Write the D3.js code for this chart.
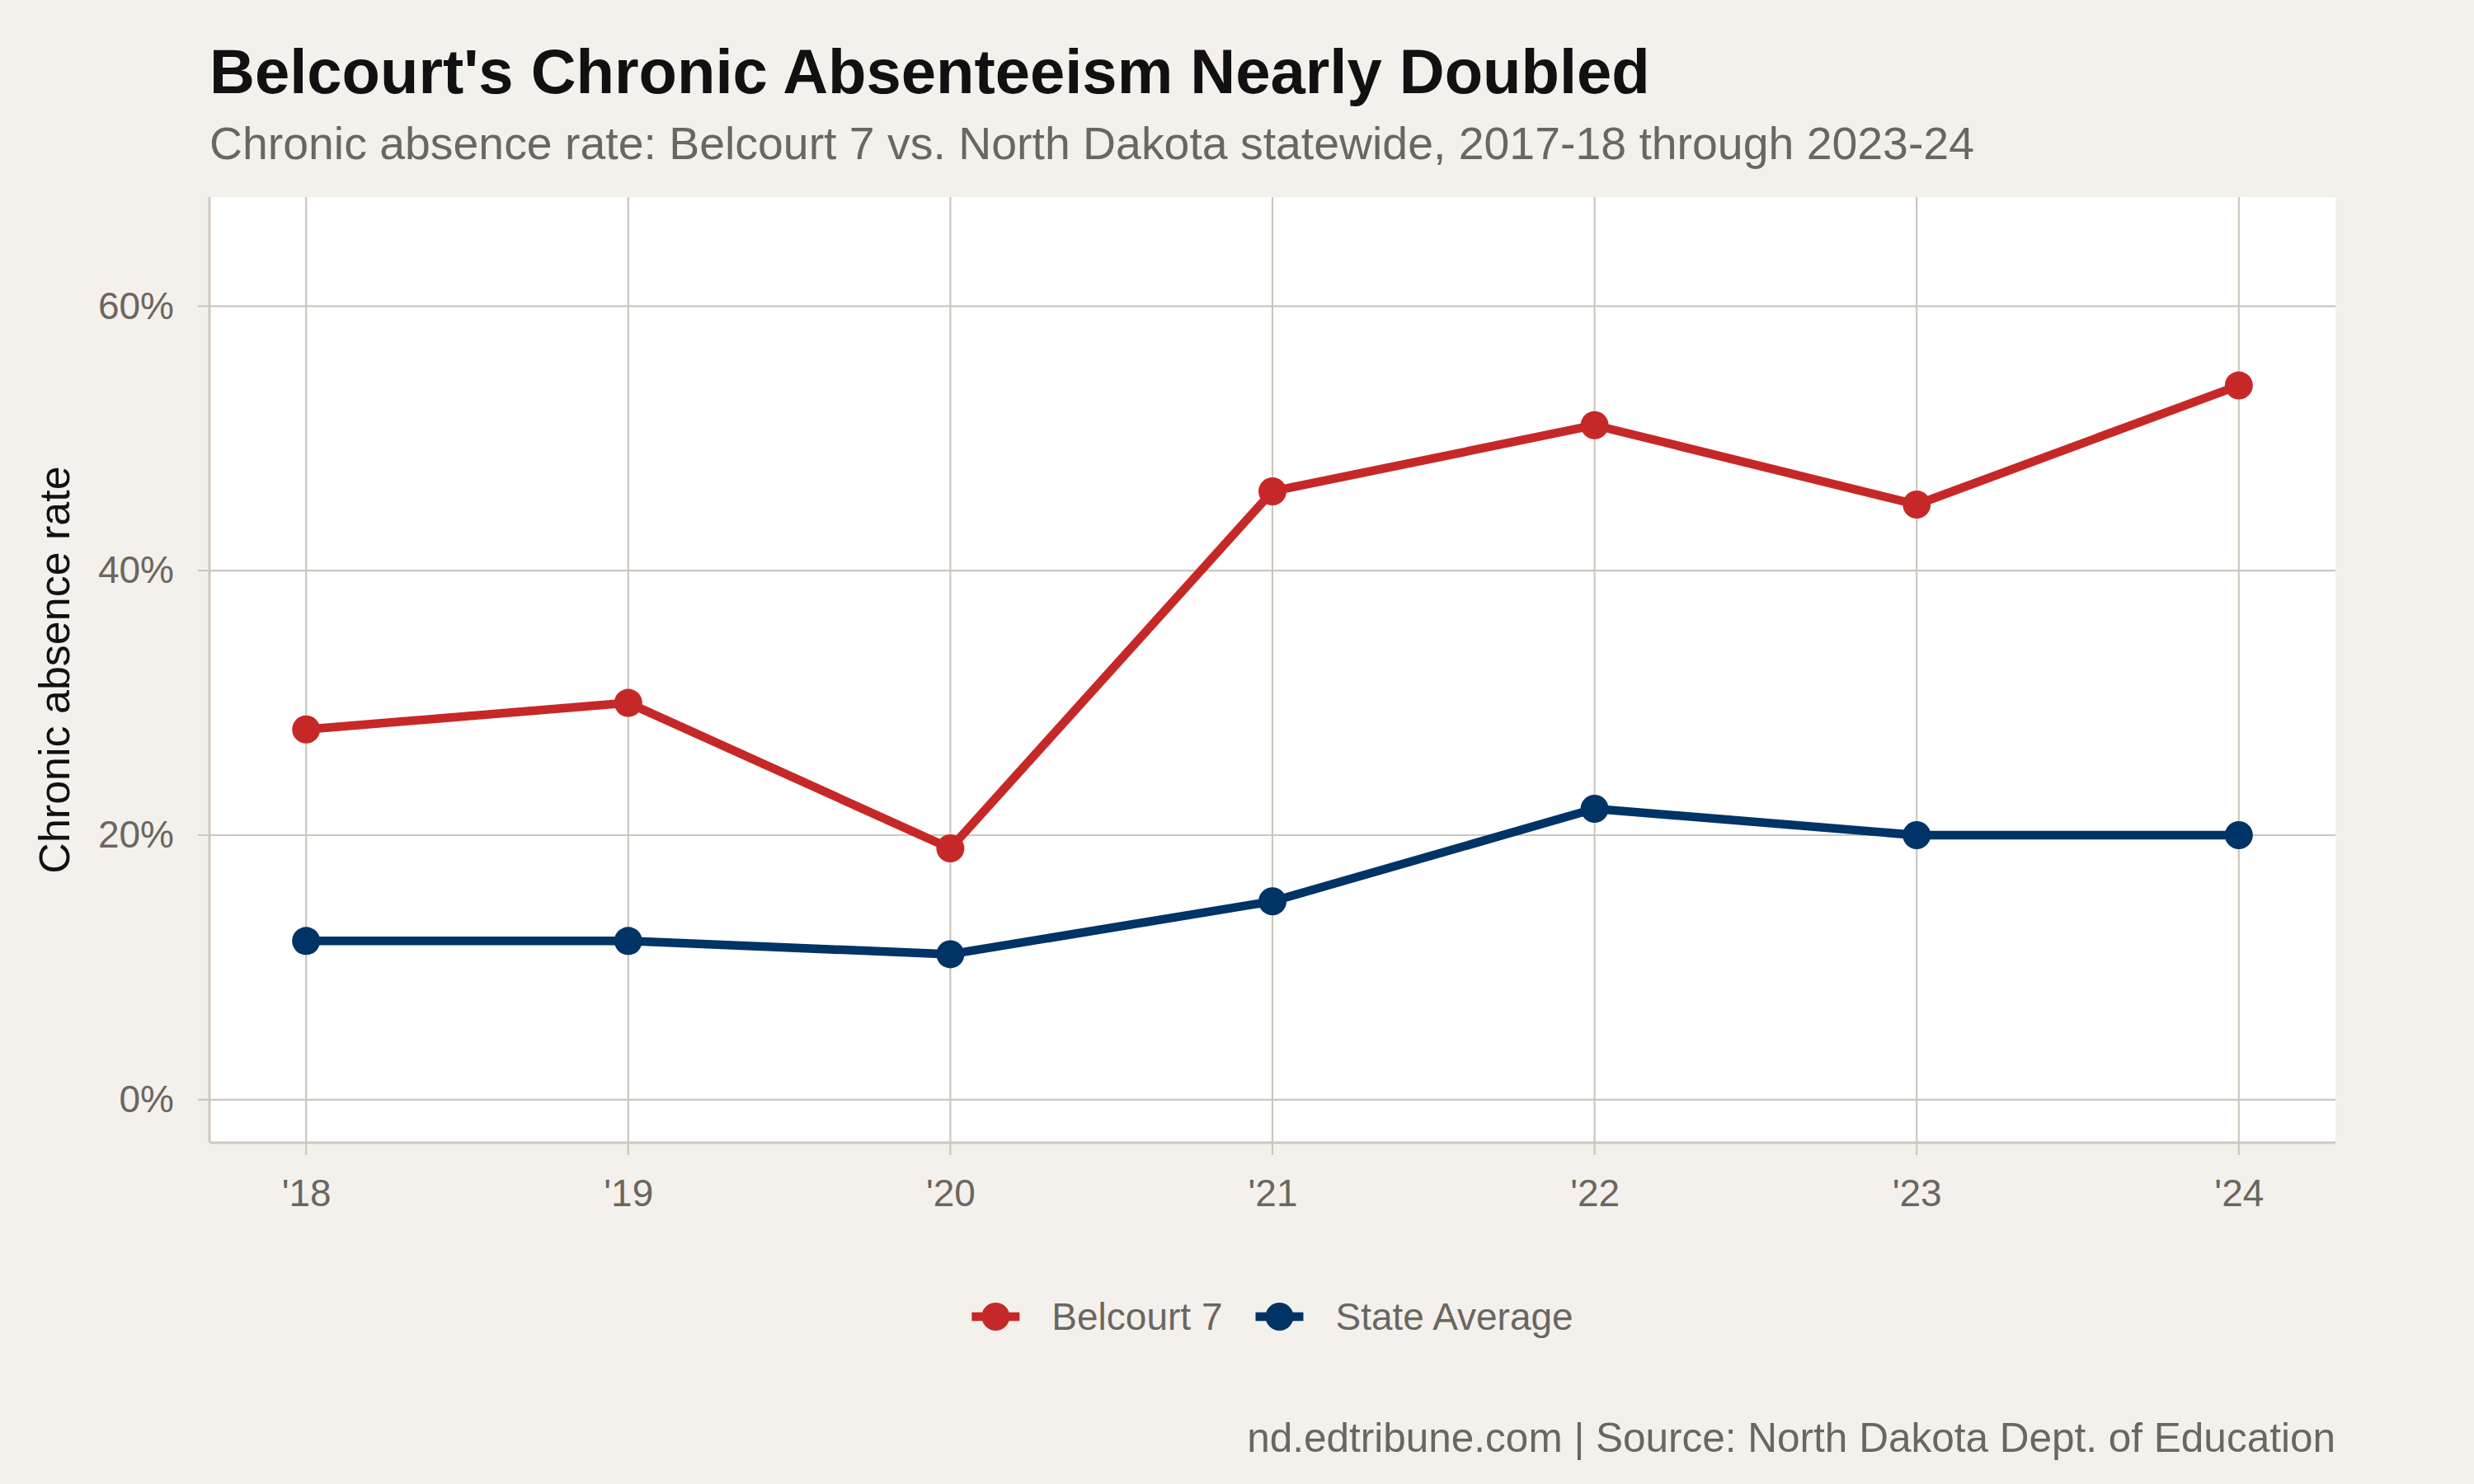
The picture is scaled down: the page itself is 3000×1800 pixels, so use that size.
<!DOCTYPE html>
<html>
<head>
<meta charset="utf-8">
<script src="https://cdn.jsdelivr.net/npm/d3@7"></script>
<style>
  html, body { margin: 0; padding: 0; background: #f4f1ec; }
  svg { display: block; }
  text { font-family: "Liberation Sans", Arial, Helvetica, sans-serif; }
</style>
</head>
<body>
<script>
// ---- Data ----
const years = [2018, 2019, 2020, 2021, 2022, 2023, 2024];
const xTickLabels = ["'18", "'19", "'20", "'21", "'22", "'23", "'24"];
const belcourt = [28, 30, 19, 46, 51, 45, 54];
const stateAvg = [12, 12, 11, 15, 22, 20, 20];
const yTicks = [0, 20, 40, 60];
const seriesNames = ["Belcourt 7", "State Average"];
const seriesColors = ["#c62828", "#003366"];

const W = 3000, H = 1800;
const panel = { left: 254, right: 2832, top: 239, bottom: 1386 };

const svg = d3.select("body").append("svg").attr("width", W).attr("height", H);
svg.append("rect").attr("width", W).attr("height", H).attr("fill", "#f4f1ec");

const x = d3.scaleLinear()
  .domain([2018 - 0.3, 2024 + 0.3])
  .range([panel.left, panel.right]);
const y = d3.scaleLinear()
  .domain([-3.25, 68.25])
  .range([panel.bottom, panel.top]);

const gridCol = "#cdc7bd";
const textCol = "#6b6660";

// panel
svg.append("rect")
  .attr("x", panel.left).attr("y", panel.top)
  .attr("width", panel.right - panel.left).attr("height", panel.bottom - panel.top)
  .attr("fill", "#ffffff");

// gridlines
svg.append("g").selectAll("line").data(yTicks).join("line")
  .attr("x1", panel.left - 14).attr("x2", panel.right)
  .attr("y1", d => y(d)).attr("y2", d => y(d))
  .attr("stroke", gridCol).attr("stroke-width", 2.2);
svg.append("g").selectAll("line").data(years).join("line")
  .attr("x1", d => x(d)).attr("x2", d => x(d))
  .attr("y1", panel.top).attr("y2", panel.bottom + 15)
  .attr("stroke", gridCol).attr("stroke-width", 2.2);

// axis lines
svg.append("line")
  .attr("x1", panel.left).attr("x2", panel.left)
  .attr("y1", panel.top).attr("y2", panel.bottom)
  .attr("stroke", gridCol).attr("stroke-width", 3);
svg.append("line")
  .attr("x1", panel.left).attr("x2", panel.right)
  .attr("y1", panel.bottom).attr("y2", panel.bottom)
  .attr("stroke", gridCol).attr("stroke-width", 3);

// Y axis labels
const yAxis = d3.axisLeft(y).tickValues(yTicks).tickFormat(d => d + "%").tickSize(0).tickPadding(0);
const gy = svg.append("g").attr("transform", `translate(${panel.left - 43},0)`).call(yAxis);
gy.select(".domain").remove();
gy.selectAll("text").attr("fill", textCol).attr("font-size", 46)
  .attr("font-family", "'Liberation Sans', Arial, sans-serif");

// X axis labels
const xAxis = d3.axisBottom(x).tickValues(years).tickFormat((d, i) => xTickLabels[i]).tickSize(0).tickPadding(0);
const gx = svg.append("g").attr("transform", `translate(0,${panel.bottom + 44})`).call(xAxis);
gx.select(".domain").remove();
gx.selectAll("text").attr("fill", textCol).attr("font-size", 46)
  .attr("font-family", "'Liberation Sans', Arial, sans-serif");

// Axis title
svg.append("text")
  .attr("transform", `translate(84,${(panel.top + panel.bottom) / 2}) rotate(-90)`)
  .attr("text-anchor", "middle")
  .attr("font-size", 52).attr("fill", "#111111")
  .text("Chronic absence rate");

// Lines and points
const series = [belcourt, stateAvg];
const line = d3.line().x((d, i) => x(years[i])).y(d => y(d));
series.forEach((s, k) => {
  svg.append("path").datum(s)
    .attr("d", line)
    .attr("fill", "none")
    .attr("stroke", seriesColors[k])
    .attr("stroke-width", 10.5)
    .attr("stroke-linejoin", "round")
    .attr("stroke-linecap", "butt");
  svg.append("g").selectAll("circle").data(s).join("circle")
    .attr("cx", (d, i) => x(years[i]))
    .attr("cy", d => y(d))
    .attr("r", 17)
    .attr("fill", seriesColors[k]);
});

// Title / subtitle
svg.append("text").attr("x", 254).attr("y", 113)
  .attr("font-size", 76).attr("font-weight", "bold").attr("fill", "#111111")
  .text("Belcourt's Chronic Absenteeism Nearly Doubled");
svg.append("text").attr("x", 254).attr("y", 193)
  .attr("font-size", 55.4).attr("fill", textCol)
  .text("Chronic absence rate: Belcourt 7 vs. North Dakota statewide, 2017-18 through 2023-24");

// Legend
const legY = 1597;
const keyW = 58, keyToText = 97, itemGap = 40;
const leg = svg.append("g");
let cursor = 0;
seriesNames.forEach((name, k) => {
  const g = leg.append("g");
  g.append("line").attr("x1", cursor).attr("x2", cursor + keyW)
    .attr("y1", legY).attr("y2", legY)
    .attr("stroke", seriesColors[k]).attr("stroke-width", 10.5);
  g.append("circle").attr("cx", cursor + keyW / 2).attr("cy", legY).attr("r", 17)
    .attr("fill", seriesColors[k]);
  const t = g.append("text").attr("x", cursor + keyToText).attr("y", legY)
    .attr("dy", "0.35em").attr("font-size", 46).attr("fill", textCol).text(name);
  const tw = t.node().getComputedTextLength();
  cursor += keyToText + tw + itemGap;
});
const legW = cursor - itemGap;
const legX = (panel.left + panel.right) / 2 - legW / 2;
leg.attr("transform", `translate(${legX},0)`);

// Caption
svg.append("text").attr("x", panel.right).attr("y", 1761)
  .attr("text-anchor", "end").attr("font-size", 49.5).attr("fill", textCol)
  .text("nd.edtribune.com | Source: North Dakota Dept. of Education");
</script>
</body>
</html>
